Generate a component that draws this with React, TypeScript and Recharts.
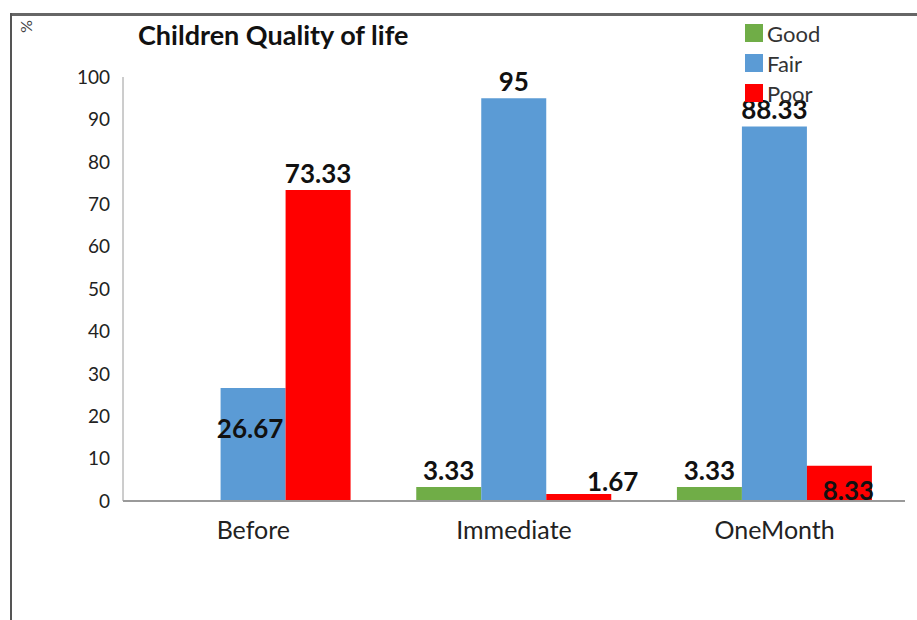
import { Bar, BarChart, LabelList, XAxis, YAxis } from 'recharts';

const categories = ['Before', 'Immediate', 'OneMonth'];
const good = [0, 3.33, 3.33];
const fair = [26.67, 95, 88.33];
const poor = [73.33, 1.67, 8.33];
const yTicks = [0, 10, 20, 30, 40, 50, 60, 70, 80, 90, 100];

const data = categories.map((name, i) => ({
  name,
  Good: good[i],
  Fair: fair[i],
  Poor: poor[i],
}));

const SERIES = ['Good', 'Fair', 'Poor'] as const;
const COLORS = { Good: '#70AD47', Fair: '#5B9BD5', Poor: '#FF0000' };
const FONT = 'Lato, "Open Sans", sans-serif';

// label nudges, relative to the top-centre of each bar
const labelShift: Record<string, Record<number, { dx: number; dy: number }>> = {
  Good: {},
  Fair: { 0: { dx: -3, dy: 40 } },
  Poor: { 1: { dx: 34, dy: -13 }, 2: { dx: 9, dy: 24 } },
};

const makeLabel = (key: string) => (props: any) => {
  const { x, y, width, value, index } = props;
  if (!value) return null;
  const s = labelShift[key][index] ?? { dx: 0, dy: -17 };
  return (
    <text
      x={Number(x) + Number(width) / 2 + s.dx}
      y={Number(y) + s.dy}
      textAnchor="middle"
      dominantBaseline="central"
      fontFamily={FONT}
      fontWeight={700}
      fontSize={26}
      fill="#111"
    >
      {value}
    </text>
  );
};

export default function App() {
  return (
    <div
      style={{
        position: 'absolute',
        left: 0,
        top: 0,
        width: 917,
        height: 620,
        background: '#fff',
        overflow: 'hidden',
      }}
    >
      <BarChart
        width={917}
        height={620}
        data={data}
        margin={{ top: 77, right: 12, bottom: 89, left: 63 }}
        barCategoryGap="12.5%"
        barGap={0}
        style={{ position: 'absolute', left: 0, top: 0 }}
      >
        <XAxis
          dataKey="name"
          height={30}
          tickLine={false}
          axisLine={{ stroke: '#9a9a9a', strokeWidth: 2 }}
          tickMargin={14}
          tick={{ fontFamily: FONT, fontSize: 25, fill: '#222' }}
        />
        <YAxis
          domain={[0, 100]}
          ticks={yTicks}
          width={60}
          tickLine={false}
          axisLine={{ stroke: '#9a9a9a', strokeWidth: 1 }}
          tickSize={5}
          tickMargin={8}
          tick={{ fontFamily: FONT, fontSize: 19, fill: '#222' }}
        />
        {SERIES.map((k) => (
          <Bar key={k} dataKey={k} fill={COLORS[k]} isAnimationActive={false}>
            <LabelList dataKey={k} content={makeLabel(k)} />
          </Bar>
        ))}
      </BarChart>

      {/* frame edges */}
      <div
        style={{
          position: 'absolute',
          left: 10,
          top: 13,
          width: 907,
          height: 3,
          background: '#666',
        }}
      />
      <div
        style={{
          position: 'absolute',
          left: 10,
          top: 13,
          width: 2,
          height: 607,
          background: '#555',
        }}
      />
      <div
        style={{
          position: 'absolute',
          left: 21,
          top: 17,
          fontFamily: FONT,
          fontSize: 16,
          color: '#444',
          transform: 'rotate(90deg)',
        }}
      >
        %
      </div>
      <div
        style={{
          position: 'absolute',
          left: 138,
          top: 18,
          fontFamily: FONT,
          fontWeight: 700,
          fontSize: 27,
          color: '#111',
        }}
      >
        Children Quality of life
      </div>

      {/* legend */}
      <div
        style={{
          position: 'absolute',
          left: 745,
          top: 18,
          fontFamily: FONT,
          fontSize: 22,
          color: '#333',
        }}
      >
        {SERIES.map((k) => (
          <div
            key={k}
            style={{ display: 'flex', alignItems: 'center', height: 30 }}
          >
            <span
              style={{
                width: 18,
                height: 18,
                background: COLORS[k],
                marginRight: 4,
                display: 'inline-block',
              }}
            />
            {k}
          </div>
        ))}
      </div>
    </div>
  );
}
